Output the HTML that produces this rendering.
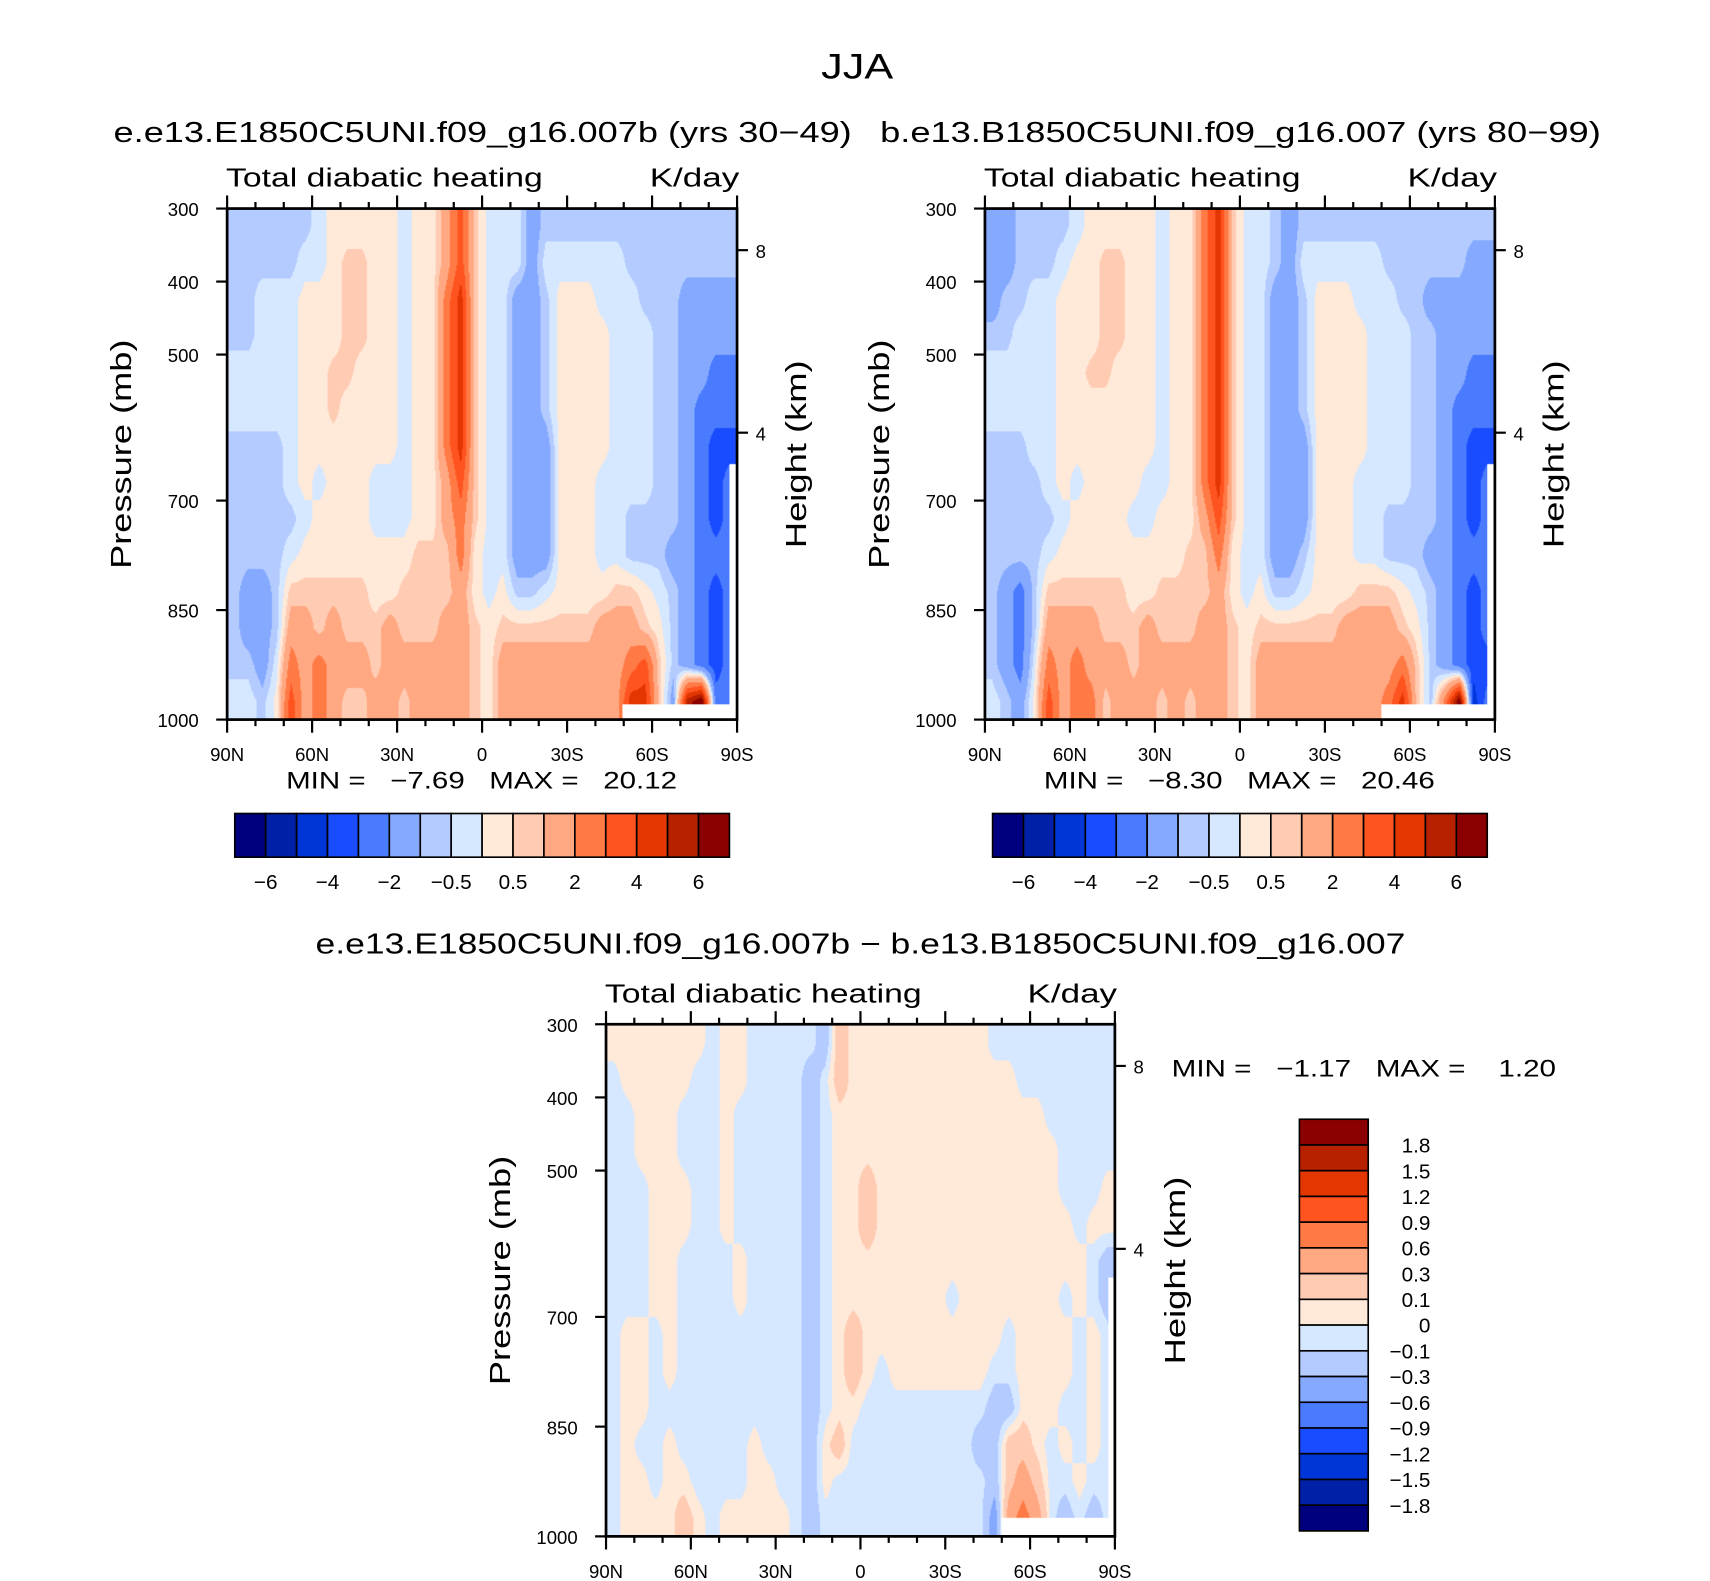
<!DOCTYPE html>
<html><head><meta charset="utf-8">
<style>
html,body{margin:0;padding:0;background:#fff;}
#page{width:1710px;height:1581px;overflow:hidden;position:relative;background:#fff;}
#stage{position:absolute;left:0;top:0;width:1566px;height:1448px;transform:scale(1.09195);transform-origin:0 0;}
canvas{position:absolute;}
svg{position:absolute;left:0;top:0;}
text{font-family:"Liberation Sans",sans-serif;fill:#000;}
</style></head>
<body>
<div id="page">
<div id="stage">
<canvas id="c1" width="467" height="468" style="left:208px;top:191px"></canvas>
<canvas id="c2" width="467" height="468" style="left:902px;top:191px"></canvas>
<canvas id="c3" width="466" height="469" style="left:555px;top:938px"></canvas>
<svg id="ov" width="1566" height="1448"></svg>
</div></div>
<script>
// ---------- data ----------
const latTicks = ["90N","60N","30N","0","30S","60S","90S"];
const presTicks = [300,400,500,700,850,1000];
const heightTicks = [8,4];
const heightTickPres = [357,607];
const levels1 = [-6,-5,-4,-3,-2,-1,-0.5,0,0.5,1,2,3,4,5,6];
const barLabels1 = ["\u22126","\u22124","\u22122","\u22120.5","0.5","2","4","6"];
const levels3 = [-1.8,-1.5,-1.2,-0.9,-0.6,-0.3,-0.1,0,0.1,0.3,0.6,0.9,1.2,1.5,1.8];
const barLabels3 = ["1.8","1.5","1.2","0.9","0.6","0.3","0.1","0","\u22120.1","\u22120.3","\u22120.6","\u22120.9","\u22121.2","\u22121.5","\u22121.8"];
const colors = ["#00007f","#0020a8","#0035d8","#1a4cff","#4a7bff","#84a9ff","#b3cbff","#d6e8ff","#ffe9d9","#ffcbb3","#ffa882","#ff7a45","#ff5320","#e33600","#b82100","#8b0000"];
const stats1 = {min:"\u22127.69", max:"20.12"};
const stats2 = {min:"\u22128.30", max:"20.46"};
const stats3 = {min:"\u22121.17", max:"1.20"};

// rows: 300-350 ... 950-1000 mb ; columns: 5-degree bins 90N -> 90S
const field1 = [
[-0.7,-0.7,-0.7,-0.7,-0.7,-0.7,-0.2,0.2,0.2,0.2,0.2,0.2,-0.2,0.2,0.2,1.5,3.5,0.7,-0.2,-0.2,-0.2,-1.5,-0.7,-0.7,-0.7,-0.7,-0.7,-0.7,-0.7,-0.7,-0.7,-0.7,-0.7,-0.7,-0.7,-0.7],
[-0.7,-0.7,-0.7,-0.7,-0.7,-0.2,-0.2,0.2,0.7,0.7,0.2,0.2,-0.2,0.2,0.2,1.5,3.5,0.7,-0.2,-0.2,-0.2,-1.5,-0.2,-0.2,-0.2,-0.2,-0.2,-0.2,-0.7,-0.7,-0.7,-0.7,-0.7,-0.7,-0.7,-0.7],
[-0.7,-0.7,-0.2,-0.2,-0.2,0.2,0.2,0.2,0.7,0.7,0.2,0.2,-0.2,0.2,0.2,2.5,4.5,0.7,-0.2,-0.2,-1.5,-1.5,-0.7,0.2,0.2,0.2,-0.2,-0.2,-0.2,-0.7,-0.7,-0.7,-1.5,-1.5,-1.5,-1.5],
[-0.7,-0.7,-0.2,-0.2,-0.2,0.2,0.2,0.2,0.7,0.7,0.2,0.2,-0.2,0.2,0.2,2.5,4.5,0.7,-0.2,-0.2,-1.5,-1.5,-0.7,0.2,0.2,0.2,0.2,-0.2,-0.2,-0.2,-0.7,-0.7,-1.5,-1.5,-1.5,-1.5],
[-0.2,-0.2,-0.2,-0.2,-0.2,0.2,0.2,0.7,0.7,0.2,0.2,0.2,-0.2,0.2,0.2,2.5,4.5,0.7,-0.2,-0.2,-1.5,-1.5,-0.7,0.2,0.2,0.2,0.2,-0.2,-0.2,-0.2,-0.7,-0.7,-1.5,-1.5,-2.5,-2.5],
[-0.2,-0.2,-0.2,-0.2,-0.2,0.2,0.2,0.7,0.2,0.2,0.2,0.2,-0.2,0.2,0.2,2.5,4.5,0.7,-0.2,-0.2,-1.5,-1.5,-0.7,0.2,0.2,0.2,0.2,-0.2,-0.2,-0.2,-0.7,-0.7,-1.5,-2.5,-2.5,-2.5],
[-0.7,-0.7,-0.7,-0.7,-0.2,0.2,0.2,0.2,0.2,0.2,0.2,0.2,-0.2,0.2,0.2,2.5,4.5,0.7,-0.2,-0.2,-1.5,-1.5,-1.5,0.2,0.2,0.2,0.2,-0.2,-0.2,-0.2,-0.7,-0.7,-1.5,-2.5,-3.5,-3.5],
[-0.7,-0.7,-0.7,-0.7,-0.2,0.2,-0.2,0.2,0.2,0.2,-0.2,-0.2,-0.2,0.2,0.2,1.5,3.5,0.7,-0.2,-0.2,-1.5,-1.5,-1.5,0.2,0.2,0.2,-0.2,-0.2,-0.2,-0.2,-0.7,-0.7,-1.5,-2.5,-3.5,-2.5],
[-0.7,-0.7,-0.7,-0.7,-0.7,-0.2,0.2,0.2,0.2,0.2,-0.2,-0.2,-0.2,0.2,0.2,1.5,2.5,0.7,-0.2,-0.2,-1.5,-1.5,-1.5,0.2,0.2,0.2,-0.2,-0.2,-0.7,-0.7,-0.7,-0.7,-1.5,-2.5,-3.5,-2.5],
[-0.7,-0.7,-0.7,-0.7,-0.2,0.2,0.2,0.2,0.2,0.2,0.2,0.2,0.2,0.7,0.7,0.7,2.5,0.2,-0.2,-0.2,-1.5,-1.5,-1.5,0.2,0.2,0.2,-0.2,-0.2,-0.7,-0.7,-0.7,-1.5,-1.5,-2.5,-2.5,-2.5],
[-0.7,-1.5,-1.5,-0.7,0.7,0.7,0.7,0.7,0.7,0.7,0.2,0.2,0.7,0.7,0.7,0.7,1.5,0.2,-0.2,0.2,-0.7,-0.7,-0.2,0.2,0.2,0.2,0.2,0.7,0.7,0.2,-0.2,-0.7,-1.5,-2.5,-3.5,-2.5],
[-0.7,-1.5,-1.5,-0.7,1.5,1.5,0.7,1.5,0.7,0.7,0.7,1.5,0.7,0.7,0.7,1.5,1.5,0.7,0.2,0.7,0.7,0.7,0.7,0.7,0.7,0.7,1.5,1.5,1.5,0.7,0.2,-0.7,-1.5,-2.5,-3.5,-2.5],
[-0.7,-0.7,-1.5,-0.2,2.5,1.5,2.5,1.5,1.5,1.5,0.7,1.5,1.5,1.5,1.5,1.5,1.5,0.7,0.2,1.5,1.5,1.5,1.5,1.5,1.5,1.5,1.5,1.5,2.5,3.5,0.7,-0.7,-1.5,-2.5,-3.5,-2.5],
[-0.2,-0.2,-0.7,0.2,3.5,1.5,2.5,1.5,0.7,0.7,1.5,1.5,0.7,1.5,1.5,1.5,1.5,0.7,0.2,1.5,1.5,1.5,1.5,1.5,1.5,1.5,1.5,1.5,4.5,4.5,0.7,-1.5,5.5,7,-2.5,-2.5]
];
const field2 = [
[-1.5,-1.5,-0.7,-0.7,-0.7,-0.7,-0.2,0.2,0.2,0.2,0.2,0.2,-0.2,0.2,0.2,2.5,4.5,0.7,-0.2,-0.2,-0.7,-1.5,-0.7,-0.7,-0.7,-0.7,-0.7,-0.7,-0.7,-0.7,-0.7,-0.7,-0.7,-0.7,-0.7,-0.7],
[-1.5,-1.5,-0.7,-0.7,-0.7,-0.2,0.2,0.2,0.7,0.7,0.2,0.2,-0.2,0.2,0.2,2.5,4.5,0.7,-0.2,-0.2,-0.7,-1.5,-0.2,-0.2,-0.2,-0.2,-0.2,-0.2,-0.7,-0.7,-0.7,-0.7,-0.7,-0.7,-1.5,-1.5],
[-1.5,-0.7,-0.7,-0.2,-0.2,0.2,0.2,0.2,0.7,0.7,0.2,0.2,-0.2,0.2,0.2,2.5,4.5,0.7,-0.2,-0.2,-1.5,-1.5,-0.7,0.2,0.2,0.2,-0.2,-0.2,-0.2,-0.7,-0.7,-1.5,-1.5,-1.5,-1.5,-1.5],
[-0.7,-0.7,-0.2,-0.2,-0.2,0.2,0.2,0.2,0.7,0.7,0.2,0.2,-0.2,0.2,0.2,2.5,4.5,0.7,-0.2,-0.2,-1.5,-1.5,-0.7,0.2,0.2,0.2,0.2,-0.2,-0.2,-0.2,-0.7,-0.7,-1.5,-1.5,-1.5,-1.5],
[-0.2,-0.2,-0.2,-0.2,-0.2,0.2,0.2,0.7,0.7,0.2,0.2,0.2,-0.2,0.2,0.2,2.5,4.5,0.7,-0.2,-0.2,-1.5,-1.5,-0.7,0.2,0.2,0.2,0.2,-0.2,-0.2,-0.2,-0.7,-0.7,-1.5,-1.5,-2.5,-2.5],
[-0.2,-0.2,-0.2,-0.2,-0.2,0.2,0.2,0.2,0.2,0.2,0.2,0.2,-0.2,0.2,0.2,2.5,4.5,0.7,-0.2,-0.2,-1.5,-1.5,-0.7,0.2,0.2,0.2,0.2,-0.2,-0.2,-0.2,-0.7,-0.7,-1.5,-2.5,-2.5,-2.5],
[-0.7,-0.7,-0.7,-0.2,-0.2,0.2,0.2,0.2,0.2,0.2,0.2,0.2,-0.2,0.2,0.2,2.5,4.5,0.7,-0.2,-0.2,-1.5,-1.5,-1.5,0.2,0.2,0.2,0.2,-0.2,-0.2,-0.2,-0.7,-0.7,-1.5,-2.5,-3.5,-3.5],
[-0.7,-0.7,-0.7,-0.7,-0.2,0.2,-0.2,0.2,0.2,0.2,0.2,-0.2,-0.2,0.2,0.2,2.5,4.5,0.7,-0.2,-0.2,-1.5,-1.5,-1.5,0.2,0.2,0.2,-0.2,-0.2,-0.2,-0.2,-0.7,-0.7,-1.5,-2.5,-3.5,-2.5],
[-0.7,-0.7,-0.7,-0.7,-0.7,-0.2,0.2,0.2,0.2,0.2,-0.2,-0.2,0.2,0.2,0.2,1.5,3.5,0.7,-0.2,-0.2,-1.5,-1.5,-1.5,0.2,0.2,0.2,-0.2,-0.2,-0.7,-0.7,-0.7,-0.7,-1.5,-2.5,-3.5,-2.5],
[-0.7,-0.7,-0.7,-0.7,-0.2,0.2,0.2,0.2,0.2,0.2,0.2,0.2,0.2,0.2,0.7,0.7,2.5,0.2,-0.2,-0.2,-1.5,-1.5,-0.7,0.2,0.2,0.2,-0.2,-0.2,-0.7,-0.7,-0.7,-1.5,-1.5,-2.5,-2.5,-2.5],
[-0.7,-1.5,-2.5,-0.7,0.7,0.7,0.7,0.7,0.7,0.7,0.2,0.2,0.7,0.7,0.7,0.7,1.5,0.2,-0.2,0.2,-0.7,-0.7,-0.2,0.2,0.2,0.2,0.7,0.7,0.7,0.2,-0.2,-0.7,-1.5,-2.5,-3.5,-2.5],
[-0.7,-1.5,-2.5,-0.7,1.5,1.5,1.5,1.5,0.7,0.7,0.7,1.5,0.7,0.7,0.7,1.5,1.5,0.7,0.2,0.7,0.7,0.7,0.7,0.7,0.7,1.5,1.5,1.5,1.5,0.7,0.2,-0.7,-1.5,-2.5,-3.5,-2.5],
[-0.7,-1.5,-2.5,-0.2,2.5,1.5,2.5,1.5,1.5,1.5,0.7,1.5,1.5,1.5,1.5,1.5,1.5,0.7,0.2,1.5,1.5,1.5,1.5,1.5,1.5,1.5,1.5,1.5,1.5,2.5,0.7,-0.7,-1.5,-2.5,-3.5,-3.5],
[-0.2,-0.7,-1.5,0.2,3.5,1.5,2.5,2.5,0.7,1.5,1.5,1.5,0.7,1.5,0.7,1.5,1.5,0.7,0.2,1.5,1.5,1.5,1.5,1.5,1.5,1.5,1.5,1.5,2.5,4.5,0.7,-0.7,2.5,7,-4.5,-2.5]
];
const field3 = [
[0.05,0.05,0.05,0.05,0.05,0.05,0.05,-0.05,0.05,0.05,-0.05,-0.05,-0.05,-0.05,-0.05,-0.2,0.2,0.05,0.05,0.05,0.05,0.05,0.05,0.05,0.05,0.05,0.05,-0.05,-0.05,-0.05,-0.05,-0.05,-0.05,-0.05,-0.05,-0.05],
[-0.05,0.05,0.05,0.05,0.05,0.05,-0.05,-0.05,0.05,0.05,-0.05,-0.05,-0.05,-0.05,-0.2,-0.05,0.2,0.05,0.05,0.05,0.05,0.05,0.05,0.05,0.05,0.05,0.05,0.05,0.05,-0.05,-0.05,-0.05,-0.05,-0.05,-0.05,-0.05],
[-0.05,-0.05,0.05,0.05,0.05,-0.05,-0.05,-0.05,0.05,-0.05,-0.05,-0.05,-0.05,-0.05,-0.2,-0.05,0.05,0.05,0.05,0.05,0.05,0.05,0.05,0.05,0.05,0.05,0.05,0.05,0.05,0.05,0.05,-0.05,-0.05,-0.05,-0.05,-0.05],
[-0.05,-0.05,0.05,0.05,0.05,-0.05,-0.05,-0.05,0.05,-0.05,-0.05,-0.05,-0.05,-0.05,-0.2,-0.05,0.05,0.05,0.05,0.05,0.05,0.05,0.05,0.05,0.05,0.05,0.05,0.05,0.05,0.05,0.05,0.05,-0.05,-0.05,-0.05,-0.05],
[-0.05,-0.05,-0.05,0.05,0.05,0.05,-0.05,-0.05,0.05,-0.05,-0.05,-0.05,-0.05,-0.05,-0.2,-0.05,0.05,0.05,0.2,0.05,0.05,0.05,0.05,0.05,0.05,0.05,0.05,0.05,0.05,0.05,0.05,0.05,-0.05,-0.05,-0.05,0.05],
[-0.05,-0.05,-0.05,0.05,0.05,0.05,-0.05,-0.05,0.05,-0.05,-0.05,-0.05,-0.05,-0.05,-0.2,-0.05,0.05,0.05,0.2,0.05,0.05,0.05,0.05,0.05,0.05,0.05,0.05,0.05,0.05,0.05,0.05,0.05,0.05,-0.05,0.05,0.05],
[-0.05,-0.05,-0.05,0.05,0.05,-0.05,-0.05,-0.05,-0.05,0.05,-0.05,-0.05,-0.05,-0.05,-0.2,-0.05,0.05,0.05,0.05,0.05,0.05,0.05,0.05,0.05,0.05,0.05,0.05,0.05,0.05,0.05,0.05,0.05,0.05,0.05,-0.05,-0.2],
[-0.05,-0.05,-0.05,0.05,0.05,-0.05,-0.05,-0.05,-0.05,0.05,-0.05,-0.05,-0.05,-0.05,-0.2,-0.05,0.05,0.05,0.05,0.05,0.05,0.05,0.05,0.05,-0.05,0.05,0.05,0.05,0.05,0.05,0.05,0.05,-0.05,0.05,-0.05,-0.2],
[-0.05,0.05,0.05,-0.05,0.05,-0.05,-0.05,-0.05,-0.05,-0.05,-0.05,-0.05,-0.05,-0.05,-0.2,-0.05,0.05,0.2,0.05,0.05,0.05,0.05,0.05,0.05,0.05,0.05,0.05,0.05,-0.05,0.05,0.05,0.05,0.05,-0.05,0.05,-0.05],
[-0.05,0.05,0.05,-0.05,0.05,-0.05,-0.05,-0.05,-0.05,-0.05,-0.05,-0.05,-0.05,-0.05,-0.2,-0.05,0.05,0.2,0.05,-0.05,0.05,0.05,0.05,0.05,0.05,0.05,0.05,-0.05,-0.05,0.05,0.05,0.05,0.05,-0.05,0.05,-0.05],
[-0.05,0.05,0.05,-0.05,-0.05,-0.05,-0.05,-0.05,-0.05,-0.05,-0.05,-0.05,-0.05,-0.05,-0.2,-0.05,0.05,0.05,-0.05,-0.05,-0.05,-0.05,-0.05,-0.05,-0.05,-0.05,-0.05,-0.2,-0.2,0.05,0.05,0.05,-0.05,-0.05,0.05,-0.05],
[-0.05,0.05,-0.05,-0.05,0.05,-0.05,-0.05,-0.05,-0.05,-0.05,0.05,-0.05,-0.05,-0.05,-0.2,0.05,0.2,-0.05,-0.05,-0.05,-0.05,-0.05,-0.05,-0.05,-0.05,-0.05,-0.2,-0.2,0.2,0.2,0.05,-0.05,0.05,-0.05,0.05,-0.05],
[-0.05,0.05,0.05,-0.05,0.05,0.05,-0.05,-0.05,-0.05,-0.05,0.05,0.05,-0.05,-0.05,-0.2,0.05,-0.05,-0.05,-0.05,-0.05,-0.05,-0.05,-0.05,-0.05,-0.05,-0.05,-0.05,-0.2,0.2,0.45,0.2,-0.05,-0.05,0.05,-0.05,-0.05],
[-0.05,0.05,0.05,0.05,0.05,0.2,0.05,-0.05,0.05,0.05,0.05,0.05,0.05,-0.05,-0.2,-0.05,-0.05,-0.05,-0.05,-0.05,-0.05,-0.05,-0.05,-0.05,-0.05,-0.05,-0.05,-0.45,0.45,0.75,0.45,-0.05,-0.2,-0.05,-0.2,-0.05]
];

// ---------- helpers ----------
const NS = "http://www.w3.org/2000/svg";
const ov = document.getElementById('ov');
function mk(tag, attrs, parent){
  const e = document.createElementNS(NS, tag);
  for (const k in attrs) e.setAttribute(k, attrs[k]);
  (parent||ov).appendChild(e);
  return e;
}
function txt(s, x, y, size, anchor, len, parent){
  const t = mk('text', {x:x, y:y, 'font-size':size, 'text-anchor':anchor||'start'}, parent);
  if (len) { t.setAttribute('textLength', len); t.setAttribute('lengthAdjust','spacingAndGlyphs'); }
  t.textContent = s;
  return t;
}
function colorIndex(v, lev){ let i=0; while(i<lev.length && v>=lev[i]) i++; return i; }

function drawField(canvasId, field, lev, whites){
  const cv = document.getElementById(canvasId);
  const ctx = cv.getContext('2d');
  const W = cv.width, H = cv.height;
  const nr = field.length, nc = field[0].length;
  const img = ctx.createImageData(W, H);
  const rgb = colors.map(c=>[parseInt(c.substr(1,2),16),parseInt(c.substr(3,2),16),parseInt(c.substr(5,2),16)]);
  for (let py=0; py<H; py++){
    let fy = (py+0.5)/H*nr - 0.5; fy = Math.max(0, Math.min(nr-1, fy));
    const r0 = Math.floor(fy), r1 = Math.min(nr-1, r0+1), ty = fy-r0;
    for (let px=0; px<W; px++){
      let fx = (px+0.5)/W*nc - 0.5; fx = Math.max(0, Math.min(nc-1, fx));
      const c0 = Math.floor(fx), c1 = Math.min(nc-1, c0+1), tx = fx-c0;
      const v = (field[r0][c0]*(1-tx)+field[r0][c1]*tx)*(1-ty) + (field[r1][c0]*(1-tx)+field[r1][c1]*tx)*ty;
      const col = rgb[colorIndex(v, lev)];
      const k = (py*W+px)*4;
      img.data[k]=col[0]; img.data[k+1]=col[1]; img.data[k+2]=col[2]; img.data[k+3]=255;
    }
  }
  ctx.putImageData(img, 0, 0);
  ctx.fillStyle = '#fff';
  whites.forEach(w=>ctx.fillRect(w[0], w[1], w[2], w[3]));
}

function drawAxes(name, x0, y0, w, h, heightLabelOffset){
  const g = mk('g', {});
  
  
  const xs = lat => x0 + (90-lat)/180*w;
  const ys = p => y0 + (p-300)/700*h;
  for (let lat=90; lat>=-90; lat-=10){
    const major = lat%30===0;
    const L = major?12:6;
    const x = xs(lat);
    mk('line',{x1:x,y1:y0,x2:x,y2:y0-L,stroke:'#000','stroke-width':2},g);
    mk('line',{x1:x,y1:y0+h,x2:x,y2:y0+h+L,stroke:'#000','stroke-width':2},g);
  }
  latTicks.forEach((s,i)=>{
    const t = txt(s, x0 + i*w/6, y0+h+38, 17, 'middle', null, g);
    
    
  });
  presTicks.forEach(p=>{
    const y = ys(p);
    mk('line',{x1:x0,y1:y,x2:x0-10,y2:y,stroke:'#000','stroke-width':2},g);
    const t = txt(String(p), x0-26, y+7, 17, 'end', null, g);
    
    
  });
  heightTicks.forEach((hk,i)=>{
    const y = ys(heightTickPres[i]);
    mk('line',{x1:x0+w,y1:y,x2:x0+w+10,y2:y,stroke:'#000','stroke-width':2},g);
    const t = txt(String(hk), x0+w+17, y+7, 17, 'start', null, g);
    
    
  });
  mk('rect',{x:x0,y:y0,width:w,height:h,fill:'none',stroke:'#000','stroke-width':2.5},g);
  const t1 = txt('Total diabatic heating', x0-1, y0-20, 24, 'start', 290, g);
  
  
  const t2 = txt('K/day', x0+w+2, y0-20, 24, 'end', 82, g);
  
  
  const yc = y0 + h/2 - 9;
  const pl = txt('Pressure (mb)', 0, 0, 26, 'middle', 210, g);
  pl.setAttribute('transform', `translate(${x0-88},${yc}) rotate(-90)`);
  
  
  const hl = txt('Height (km)', 0, 0, 26, 'middle', 172, g);
  hl.setAttribute('transform', `translate(${x0+w+heightLabelOffset},${yc}) rotate(-90)`);
  
  
}

function hBar(name, x0, y0, w, h, labels){
  const g = mk('g', {});
  
  
  const bw = w/colors.length;
  colors.forEach((c,i)=>{
    const r = mk('rect',{x:x0+i*bw,y:y0,width:bw,height:h,fill:c,stroke:'#000','stroke-width':1.5},g);
    
    
  });
  labels.forEach((s,i)=>{
    const t = txt(s, x0+(2*i+1)*bw, y0+h+29, 19, 'middle', null, g);
    
    
  });
}
function vBar(name, x0, y0, w, h, labels){
  const g = mk('g', {});
  
  
  const bh = h/colors.length;
  colors.slice().reverse().forEach((c,i)=>{
    const r = mk('rect',{x:x0,y:y0+i*bh,width:w,height:bh,fill:c,stroke:'#000','stroke-width':1.5},g);
    
    
  });
  labels.forEach((s,i)=>{
    const t = txt(s, x0+w+57, y0+(i+1)*bh+7, 19, 'end', null, g);
    
    
  });
}

// ---------- draw ----------
drawField('c1', field1, levels1, [[362,454,105,14],[460,234,7,234]]);
drawField('c2', field2, levels1, [[363,454,104,14],[460,234,7,234]]);
drawField('c3', field3, levels3, [[362,452,104,17],[460,232,6,237]]);

let t;
t = txt('JJA', 785, 72, 32, 'middle', 66);  
t = txt('e.e13.E1850C5UNI.f09_g16.007b (yrs 30\u221249)', 104, 130, 26, 'start', 676);  
t = txt('b.e13.B1850C5UNI.f09_g16.007 (yrs 80\u221299)', 806, 130, 26, 'start', 660);  
t = txt('e.e13.E1850C5UNI.f09_g16.007b \u2212 b.e13.B1850C5UNI.f09_g16.007', 289, 873, 26, 'start', 998);  

drawAxes('left-panel', 208, 191, 467, 468, 63);
drawAxes('right-panel', 902, 191, 467, 468, 63);
drawAxes('difference-panel', 555, 938, 466, 469, 64);

t = txt('MIN =   ' + stats1.min + '   MAX =   ' + stats1.max, 262, 722, 22, 'start', 358);   t.style.whiteSpace='pre';
t = txt('MIN =   ' + stats2.min + '   MAX =   ' + stats2.max, 956, 722, 22, 'start', 358);   t.style.whiteSpace='pre';
t = txt('MIN =   ' + stats3.min + '   MAX =    ' + stats3.max, 1073, 986, 22, 'start', 352);   t.style.whiteSpace='pre';

hBar('left-colorbar', 215, 745, 453, 40, barLabels1);
hBar('right-colorbar', 909, 745, 453, 40, barLabels1);
vBar('difference-colorbar', 1190, 1025, 63, 377, barLabels3);
</script>
</body></html>
